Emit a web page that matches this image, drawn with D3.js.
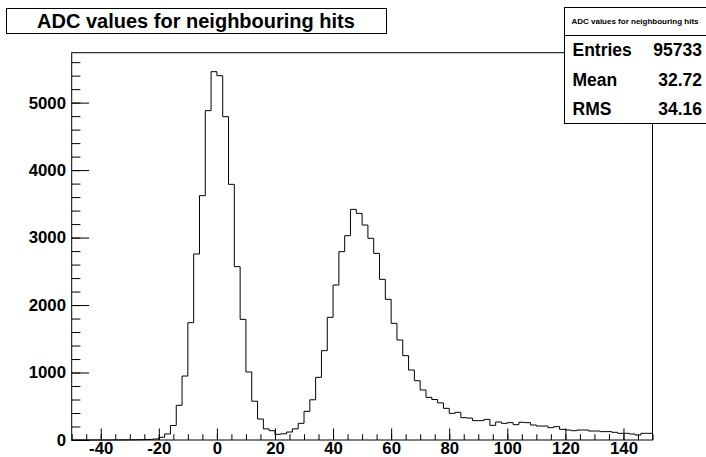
<!DOCTYPE html>
<html lang="en">
<head>
    <meta charset="UTF-8">
    <title>ADC values for neighbouring hits</title>
    <script src="https://d3js.org/d3.v7.min.js"></script>
    <style>
        body { margin: 0; background: #fff; }
        svg { display: block; font-family: "Liberation Sans", Arial, Helvetica, sans-serif; font-weight: bold; }
        .tick line { stroke: #000; }
        .axis text { font-size: 16.8px; font-weight: bold; fill: #000; }
    </style>
</head>
<body>
    <div id="chart"></div>
    <script>
        // bin lower edges: -50 .. 148, width 2
        const binLow = d3.range(-50, 150, 2);
        const counts = [
            0, 0, 0, 0, 0, 0, 0, 1, 1, 2,
            3, 4, 6, 8, 15, 40, 89, 215, 514, 948,
            1739, 2757, 3621, 4881, 5459, 5399, 4792, 3789, 2569, 1788,
            1008, 575, 311, 165, 138, 84, 92, 118, 165, 247,
            425, 596, 929, 1324, 1818, 2297, 2791, 3028, 3418, 3359,
            3186, 2989, 2766, 2381, 2085, 1729, 1482, 1250, 1037, 879,
            741, 632, 600, 550, 469, 395, 410, 331, 325, 287,
            287, 306, 217, 267, 247, 257, 227, 262, 257, 222,
            207, 207, 183, 198, 158, 148, 138, 148, 148, 133,
            133, 124, 124, 114, 99, 99, 89, 74, 99, 99
        ];
        const xMajor = d3.range(-40, 141, 20);
        const xMinor = d3.range(-50, 151, 5);
        const yMajor = d3.range(0, 5001, 1000);
        const yMinor = d3.range(0, 5701, 200);
        const title = "ADC values for neighbouring hits";
        const stats = [["Entries", "95733"], ["Mean", "32.72"], ["RMS", "34.16"]];

        const W = 706, H = 457;
        const frame = { left: 71.7, right: 652.5, top: 52.7, bottom: 440 };

        const svg = d3.select("#chart").append("svg")
            .attr("width", W).attr("height", H);

        const x = d3.scaleLinear().domain([-50, 150]).range([frame.left, frame.right]);
        const y = d3.scaleLinear().domain([0, 5740]).range([frame.bottom, frame.top]);

        // minor ticks
        svg.append("g").attr("class", "axis")
            .attr("transform", `translate(0,${frame.bottom})`)
            .call(d3.axisBottom(x).tickValues(xMinor).tickSize(-5.8).tickFormat(""))
            .call(g => g.select(".domain").remove());
        svg.append("g").attr("class", "axis")
            .attr("transform", `translate(${frame.left},0)`)
            .call(d3.axisLeft(y).tickValues(yMinor).tickSize(-8.7).tickFormat(""))
            .call(g => g.select(".domain").remove());

        // major ticks with labels
        svg.append("g").attr("class", "axis")
            .attr("transform", `translate(0,${frame.bottom})`)
            .call(d3.axisBottom(x).tickValues(xMajor).tickSize(-11.6).tickPadding(2).tickFormat(d3.format("d")))
            .call(g => g.select(".domain").remove())
            .call(g => g.selectAll("text").text(d => d < 0 ? "-" + Math.abs(d) : d));
        svg.append("g").attr("class", "axis")
            .attr("transform", `translate(${frame.left},0)`)
            .call(d3.axisLeft(y).tickValues(yMajor).tickSize(-17.4).tickPadding(5.7).tickFormat(d3.format("d")))
            .call(g => g.select(".domain").remove());

        // histogram outline
        const pts = binLow.map((b, i) => [b, counts[i]]);
        pts.push([150, counts[counts.length - 1]]);
        const line = d3.line()
            .x(d => x(d[0]))
            .y(d => y(d[1]))
            .curve(d3.curveStepAfter);
        svg.append("path")
            .attr("d", line(pts))
            .attr("fill", "none")
            .attr("stroke", "#000")
            .attr("stroke-width", 1);

        // frame
        svg.append("rect")
            .attr("x", frame.left).attr("y", frame.top)
            .attr("width", frame.right - frame.left)
            .attr("height", frame.bottom - frame.top)
            .attr("fill", "none").attr("stroke", "#000");

        // title box
        svg.append("rect")
            .attr("x", 6.5).attr("y", 8.5).attr("width", 380).attr("height", 25)
            .attr("fill", "#fff").attr("stroke", "#000");
        svg.append("text")
            .attr("x", 196).attr("y", 28)
            .attr("text-anchor", "middle")
            .attr("font-size", 20)
            .text(title);

        // stats box
        const sb = { x: 564.5, y: 7.5, w: 145, h: 116 };
        svg.append("rect")
            .attr("x", sb.x).attr("y", sb.y).attr("width", sb.w).attr("height", sb.h)
            .attr("fill", "#fff").attr("stroke", "#000");
        svg.append("line")
            .attr("x1", sb.x).attr("x2", sb.x + sb.w)
            .attr("y1", 35.5).attr("y2", 35.5)
            .attr("stroke", "#000");
        svg.append("text")
            .attr("x", 635).attr("y", 24)
            .attr("text-anchor", "middle")
            .attr("font-size", 8)
            .text(title);
        const rowH = (sb.y + sb.h - 35.5) / stats.length;
        stats.forEach((s, i) => {
            const cy = 35.5 + rowH * (i + 0.5);
            svg.append("text")
                .attr("x", 572.5).attr("y", cy + 6)
                .attr("font-size", 17.5)
                .text(s[0]);
            svg.append("text")
                .attr("x", 702).attr("y", cy + 6)
                .attr("text-anchor", "end")
                .attr("font-size", 17.5)
                .text(s[1]);
        });
    </script>
</body>
</html>
